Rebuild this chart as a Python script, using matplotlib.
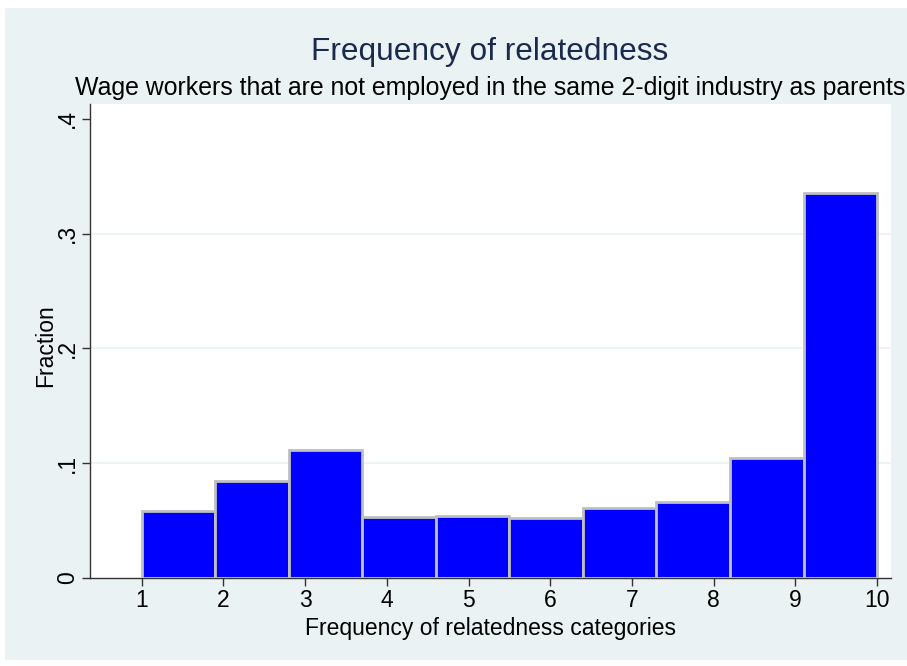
import matplotlib.pyplot as plt
from matplotlib.patches import Rectangle

plt.rcParams['font.family'] = ['Liberation Sans', 'DejaVu Sans']

# histogram: 10 bins between 1 and 10
bin_edges = [1, 1.9, 2.8, 3.7, 4.6, 5.5, 6.4, 7.3, 8.2, 9.1, 10]
fractions = [0.0586, 0.0842, 0.1115, 0.0534, 0.0543, 0.0520, 0.0612, 0.0665, 0.1045, 0.3351]
x_ticks = [1, 2, 3, 4, 5, 6, 7, 8, 9, 10]
y_ticks = [0, 0.1, 0.2, 0.3, 0.4]
y_tick_labels = ['0', '.1', '.2', '.3', '.4']

fig = plt.figure(figsize=(9.07, 6.66), dpi=100, facecolor='white')
# stata-like graph region background
bg = Rectangle((5 / 907, 6 / 666), 1, 1 - 14 / 666, transform=fig.transFigure,
               facecolor='#eaf2f3', edgecolor='none', zorder=-10)
fig.add_artist(bg)

ax = fig.add_axes([90 / 907, 88 / 666, 801 / 907, 474 / 666])
ax.set_facecolor('white')

lefts = bin_edges[:-1]
widths = [b - a for a, b in zip(bin_edges[:-1], bin_edges[1:])]
ax.bar(lefts, fractions, width=widths, align='edge', color='#0000ff',
       edgecolor='#bfbfbf', linewidth=2, zorder=3)

ax.set_xlim(0.367, 10.17)
ax.set_ylim(0, 0.4129)

ax.set_xticks(x_ticks)
ax.set_yticks(y_ticks)
ax.set_yticklabels(y_tick_labels, rotation=90, va='center')
for g in y_ticks[1:4]:
    ax.axhline(g, color='#eaf2f3', linewidth=1.2, zorder=1)

ax.tick_params(axis='both', labelsize=16.5, length=6, color='#333333', width=1, pad=2)
for s in ['top', 'right']:
    ax.spines[s].set_visible(False)
for s in ['left', 'bottom']:
    ax.spines[s].set_color('#333333')
    ax.spines[s].set_linewidth(1)

ax.set_xlabel('Frequency of relatedness categories', fontsize=16.5, va='center')
ax.xaxis.set_label_coords(0.5, -0.107)
ax.set_ylabel('Fraction', fontsize=16.5, va='center')
ax.yaxis.set_label_coords(-0.056, 0.49)

fig.text(0.54, 1 - 52 / 666, 'Frequency of relatedness', ha='center', va='center',
         fontsize=22.8, color='#1a2a4f')
fig.text(0.54, 1 - 88 / 666, 'Wage workers that are not employed in the same 2-digit industry as parents',
         ha='center', va='center', fontsize=17.9, color='black')

plt.savefig('out.png', dpi=100, facecolor=fig.get_facecolor())
